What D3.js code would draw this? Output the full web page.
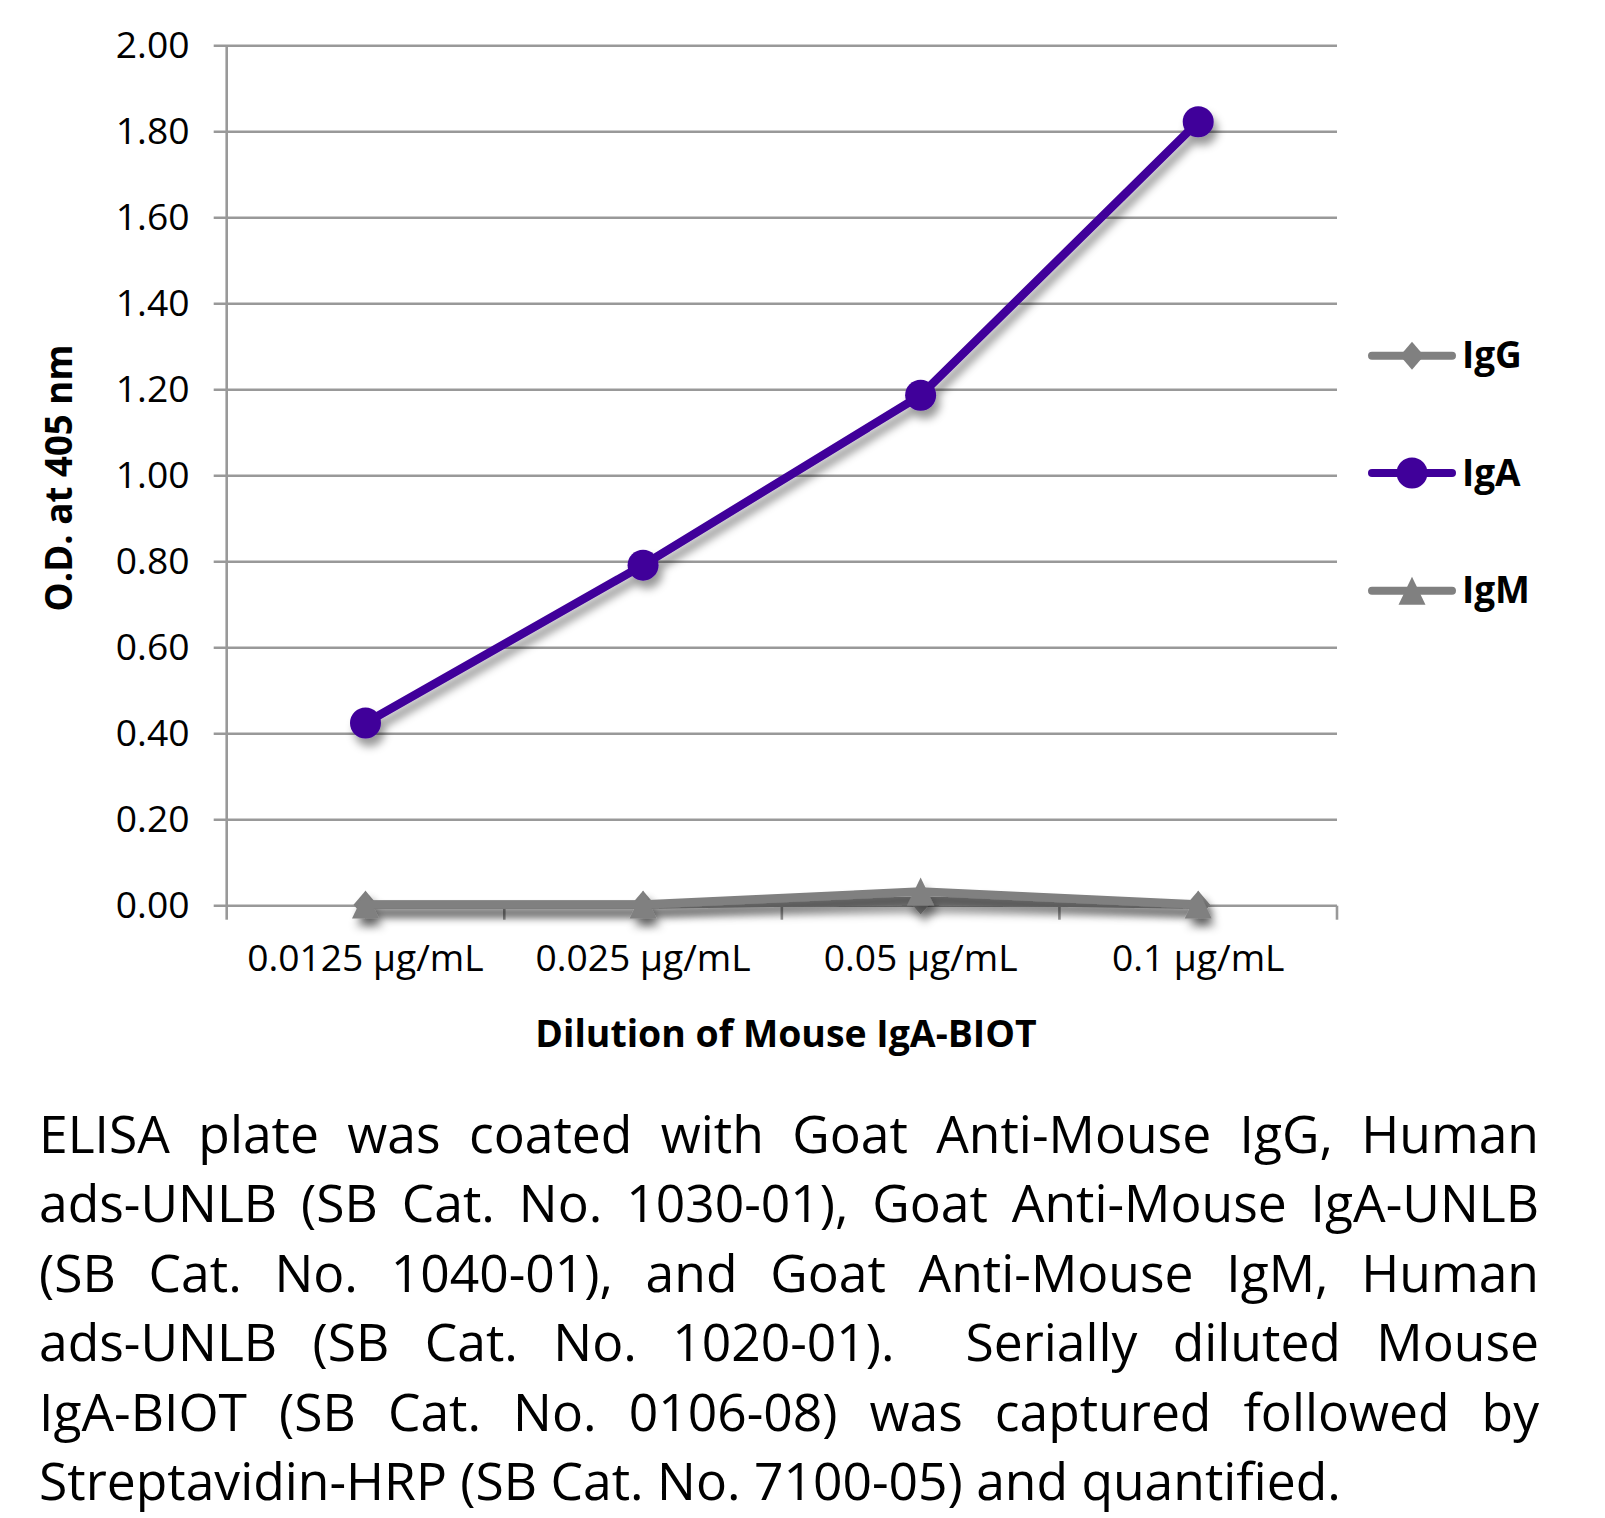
<!DOCTYPE html>
<html>
<head>
<meta charset="utf-8">
<script src="https://cdn.jsdelivr.net/npm/d3@7"></script>
<style>
  html, body { margin: 0; padding: 0; background: #fff; }
  svg { display: block; }
</style>
</head>
<body>
<svg id="chart" width="1605" height="1518"></svg>
<script>
// ---- data ----
const categories = ["0.0125 µg/mL", "0.025 µg/mL", "0.05 µg/mL", "0.1 µg/mL"];
const seriesNames = ["IgG", "IgA", "IgM"];
const igG = [0.002, 0.002, 0.012, 0.002];
const igA = [0.425, 0.792, 1.187, 1.823];
const igM = [0.003, 0.003, 0.033, 0.003];
const yTicks = [0, 0.2, 0.4, 0.6, 0.8, 1.0, 1.2, 1.4, 1.6, 1.8, 2.0];
const yTitle = "O.D. at 405 nm";
const xTitle = "Dilution of Mouse IgA-BIOT";
const captionLines = [
  "ELISA plate was coated with Goat Anti-Mouse IgG, Human",
  "ads-UNLB (SB Cat. No. 1030-01), Goat Anti-Mouse IgA-UNLB",
  "(SB Cat. No. 1040-01), and Goat Anti-Mouse IgM, Human",
  "ads-UNLB (SB Cat. No. 1020-01).  Serially diluted Mouse",
  "IgA-BIOT (SB Cat. No. 0106-08) was captured followed by",
  "Streptavidin-HRP (SB Cat. No. 7100-05) and quantified."
];

const series = [
  { name: seriesNames[0], values: igG, color: "#808080", marker: "diamond" },
  { name: seriesNames[1], values: igA, color: "#40009a", marker: "circle" },
  { name: seriesNames[2], values: igM, color: "#808080", marker: "triangle" }
];

// ---- layout ----
const FONT = "'Open Sans', 'Noto Sans', sans-serif";
const plot = { left: 226.7, right: 1337, top: 45.7, bottom: 905.7 };

const svg = d3.select("#chart");
const defs = svg.append("defs");
const f = defs.append("filter").attr("id", "shadow")
  .attr("x", "-50%").attr("y", "-50%").attr("width", "200%").attr("height", "200%");
f.append("feDropShadow").attr("dx", 4).attr("dy", 8).attr("stdDeviation", 4)
  .attr("flood-color", "#000").attr("flood-opacity", 0.4);

const x = d3.scaleBand().domain(categories).range([plot.left, plot.right]).padding(0);
const y = d3.scaleLinear().domain([0, 2]).range([plot.bottom, plot.top]);

function fitSize(sel, target) {
  const fs = parseFloat(sel.attr("font-size"));
  const w = sel.node().getComputedTextLength();
  return fs * target / w;
}

// grid lines
svg.append("g").selectAll("line").data(yTicks).join("line")
  .attr("x1", plot.left - 13).attr("x2", plot.right)
  .attr("y1", d => y(d)).attr("y2", d => y(d))
  .attr("stroke", "#999").attr("stroke-width", 2.6);

// y axis line
svg.append("line").attr("x1", plot.left).attr("x2", plot.left)
  .attr("y1", plot.top).attr("y2", plot.bottom)
  .attr("stroke", "#999").attr("stroke-width", 2.6);

// x axis ticks (category boundaries)
const xBounds = categories.map(c => x(c)).concat([plot.right]);
svg.append("g").selectAll("line").data(xBounds).join("line")
  .attr("x1", d => d).attr("x2", d => d)
  .attr("y1", plot.bottom).attr("y2", plot.bottom + 14)
  .attr("stroke", "#999").attr("stroke-width", 2.6);

// y tick labels
const yLab = svg.append("g").selectAll("text").data(yTicks).join("text")
  .attr("x", 189.5).attr("y", d => y(d) + 12)
  .attr("text-anchor", "end").attr("font-family", FONT).attr("font-size", 36)
  .attr("fill", "#000").text(d => d.toFixed(2));
const yfs = fitSize(d3.select(yLab.nodes()[yTicks.length - 1]), 73.7);
yLab.attr("font-size", yfs);

// x tick labels
const xLab = svg.append("g").selectAll("text").data(categories).join("text")
  .attr("x", d => x(d) + x.bandwidth() / 2).attr("y", 970.7)
  .attr("text-anchor", "middle").attr("font-family", FONT).attr("font-size", 36)
  .attr("fill", "#000").text(d => d);
const xfs = fitSize(d3.select(xLab.nodes()[0]), 236.5);
xLab.attr("font-size", xfs);

// axis titles
const xt = svg.append("text").attr("x", 786).attr("y", 1046.7)
  .attr("text-anchor", "middle").attr("font-family", FONT).attr("font-weight", "bold")
  .attr("font-size", 36).attr("fill", "#000").text(xTitle);
xt.attr("font-size", fitSize(xt, 501.6));

const yt = svg.append("text").attr("transform", "translate(72,478) rotate(-90)")
  .attr("text-anchor", "middle").attr("font-family", FONT).attr("font-weight", "bold")
  .attr("font-size", 34).attr("fill", "#000").text(yTitle);
yt.attr("font-size", fitSize(yt, 267));

// markers
function markerPath(type) {
  if (type === "diamond") return "M0,-14L12,0L0,14L-12,0Z";
  if (type === "triangle") return "M0,-14L13.5,14L-13.5,14Z";
  return null;
}
function drawMarker(g, type, color) {
  if (type === "circle") g.append("circle").attr("r", 15.5).attr("fill", color);
  else g.append("path").attr("d", markerPath(type)).attr("fill", color);
}

const line = d3.line()
  .x((d, i) => x(categories[i]) + x.bandwidth() / 2)
  .y(d => y(d));

series.forEach(s => {
  const g = svg.append("g").attr("filter", "url(#shadow)");
  g.append("path").datum(s.values).attr("d", line)
    .attr("fill", "none").attr("stroke", s.color).attr("stroke-width", 8.5)
    .attr("stroke-linejoin", "round");
  s.values.forEach((v, i) => {
    const mg = g.append("g").attr("transform",
      `translate(${x(categories[i]) + x.bandwidth() / 2},${y(v)})`);
    drawMarker(mg, s.marker, s.color);
  });
});

// legend
const legendY = [355.7, 473, 590.7];
let legendFS = 36;
const legendTexts = [];
series.forEach((s, i) => {
  const lg = svg.append("g").attr("transform", `translate(0,${legendY[i]})`);
  lg.append("line").attr("x1", 1372).attr("x2", 1452).attr("y1", 0).attr("y2", 0)
    .attr("stroke", s.color).attr("stroke-width", 8).attr("stroke-linecap", "round");
  const mg = lg.append("g").attr("transform", "translate(1412,0)");
  drawMarker(mg, s.marker, s.color);
  const t = lg.append("text").attr("x", 1462).attr("y", 12.5)
    .attr("font-family", FONT).attr("font-weight", "bold").attr("font-size", 36)
    .attr("fill", "#000").text(s.name);
  legendTexts.push(t);
});
legendFS = fitSize(legendTexts[2], 68);
legendTexts.forEach(t => t.attr("font-size", legendFS));

// caption (justified lines)
const capLeft = 39, capRight = 1539, capBase = 1153, capStep = 69.4;
const capText = svg.append("g").selectAll("text").data(captionLines).join("text")
  .attr("x", capLeft).attr("y", (d, i) => capBase + i * capStep)
  .attr("font-family", FONT).attr("font-size", 50).attr("fill", "#000")
  .style("white-space", "pre").text(d => d);
const capNodes = capText.nodes();
const cfs = fitSize(d3.select(capNodes[capNodes.length - 1]), 1302);
capText.attr("font-size", cfs);
capNodes.forEach((n, i) => {
  if (i === capNodes.length - 1) return;
  const w = n.getComputedTextLength();
  const spaces = (captionLines[i].match(/ /g) || []).length;
  const ws = (capRight - capLeft - w) / spaces;
  d3.select(n).style("word-spacing", ws + "px");
});
</script>
</body>
</html>
